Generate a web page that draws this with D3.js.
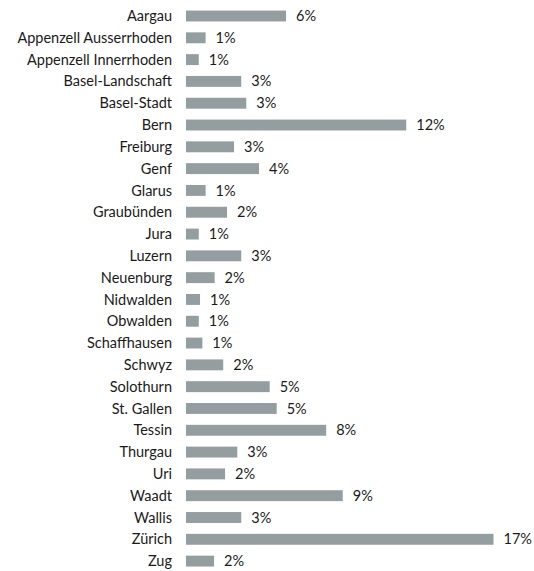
<!DOCTYPE html>
<html lang="de">

<head>
    <meta charset="UTF-8">
    <title>Kantone</title>
    <script src="https://cdn.jsdelivr.net/npm/d3@7"></script>
    <style>
        body { margin: 0; background: #fff; }
        text { font-family: Lato, "Open Sans", sans-serif; font-size: 14.5px; fill: #1a1a1a; }
    </style>
</head>

<body>
    <svg></svg>
</body>
<script>
    const width = 534;
    const height = 571;

    // cantons, top to bottom
    const cantons = ['Aargau', 'Appenzell Ausserrhoden', 'Appenzell Innerrhoden', 'Basel-Landschaft', 'Basel-Stadt',
        'Bern', 'Freiburg', 'Genf', 'Glarus', 'Graubünden', 'Jura', 'Luzern', 'Neuenburg', 'Nidwalden', 'Obwalden',
        'Schaffhausen', 'Schwyz', 'Solothurn', 'St. Gallen', 'Tessin', 'Thurgau', 'Uri', 'Waadt', 'Wallis', 'Zürich', 'Zug'];

    // share in percent
    const shares = [5.56, 1.09, 0.71, 3.07, 3.35, 12.24, 2.67, 4.06, 1.09, 2.28, 0.71, 3.07, 1.59, 0.78, 0.71,
        0.91, 2.07, 4.65, 5.04, 7.79, 2.85, 2.17, 8.71, 3.07, 17.09, 1.56];

    const data = cantons.map((c, i) => ({ name: c, value: shares[i] }));

    const svg = d3.select('svg')
        .attr('width', width)
        .attr('height', height);

    const x = d3.scaleLinear()
        .domain([0, d3.max(shares)])
        .range([186, 493.5]);

    const y = d3.scaleBand()
        .domain(cantons)
        .range([5.1, 572])
        .paddingInner(0.5)
        .paddingOuter(0.25);

    const rows = svg.selectAll('.row')
        .data(data)
        .join('g')
        .attr('class', 'row')
        .attr('transform', d => `translate(0, ${y(d.name)})`);

    rows.append('rect')
        .attr('x', x(0))
        .attr('width', d => x(d.value) - x(0))
        .attr('height', y.bandwidth())
        .attr('fill', '#949d9f');

    // canton names
    rows.append('text')
        .attr('x', 172)
        .attr('y', y.bandwidth() / 2)
        .attr('dy', '0.35em')
        .attr('text-anchor', 'end')
        .text(d => d.name);

    // value labels
    rows.append('text')
        .attr('x', d => x(d.value) + 10)
        .attr('y', y.bandwidth() / 2)
        .attr('dy', '0.35em')
        .text(d => Math.round(d.value) + '%');
</script>

</html>
